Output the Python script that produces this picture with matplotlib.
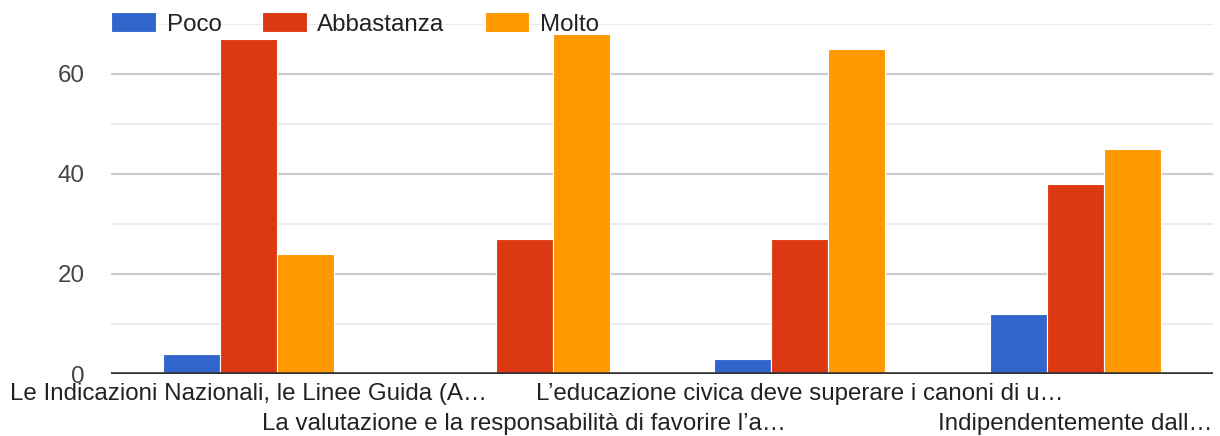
import matplotlib
matplotlib.use("Agg")
import matplotlib.pyplot as plt
import numpy as np

categories = [
    "Le Indicazioni Nazionali, le Linee Guida (A…",
    "La valutazione e la responsabilità di favorire l’a…",
    "L’educazione civica deve superare i canoni di u…",
    "Indipendentemente dall…",
]
series_names = ["Poco", "Abbastanza", "Molto"]
poco = [4, 0, 3, 12]
abbastanza = [67, 27, 27, 38]
molto = [24, 68, 65, 45]
colors = ["#3366cc", "#dc3912", "#ff9900"]
y_ticks = [0, 20, 40, 60]

plt.rcParams['font.family'] = ['Liberation Sans', 'DejaVu Sans']
FS = 17.4

fig = plt.figure(figsize=(12.2, 4.36), dpi=100)
L, R, B, T = 111, 1213, 374, 24
ax = fig.add_axes([L/1220, 1-B/436, (R-L)/1220, (B-T)/436])

x = np.arange(len(categories))
w = 0.207
for i, (vals, name, c) in enumerate(zip([poco, abbastanza, molto], series_names, colors)):
    ax.bar(x + (i-1)*w, vals, width=w, color=c, label=name, edgecolor='white', linewidth=0.8, zorder=3)

ax.set_xlim(-0.5, len(categories)-0.5)
ax.set_ylim(0, 70)
for v in [10, 30, 50, 70]:
    ax.axhline(v, color='#ebebeb', lw=1.5, zorder=1)
for v in [20, 40, 60]:
    ax.axhline(v, color='#cccccc', lw=1.6, zorder=1)
ax.axhline(0, color='#333333', lw=2.6, zorder=4)

for s in ax.spines.values():
    s.set_visible(False)
ax.set_yticks(y_ticks)
ax.set_yticklabels([str(t) for t in y_ticks], fontsize=FS, color='#444444')
ax.tick_params(axis='y', length=0, pad=19)
ax.set_xticks([])

for i, lab in enumerate(categories):
    yoff = -0.056 if i % 2 == 0 else -0.142
    ax.text(x[i], yoff, lab, transform=ax.get_xaxis_transform(), ha='center', va='center',
            fontsize=FS, color='#222222')

leg = ax.legend(ncol=3, loc='center left', bbox_to_anchor=(0.0, 1.0), frameon=False,
                fontsize=FS, handlelength=1.86, handleheight=0.87, handletextpad=0.45,
                columnspacing=1.65, labelcolor='#222222', borderaxespad=0, borderpad=0)

fig.savefig("out.png", dpi=100, facecolor='white')
